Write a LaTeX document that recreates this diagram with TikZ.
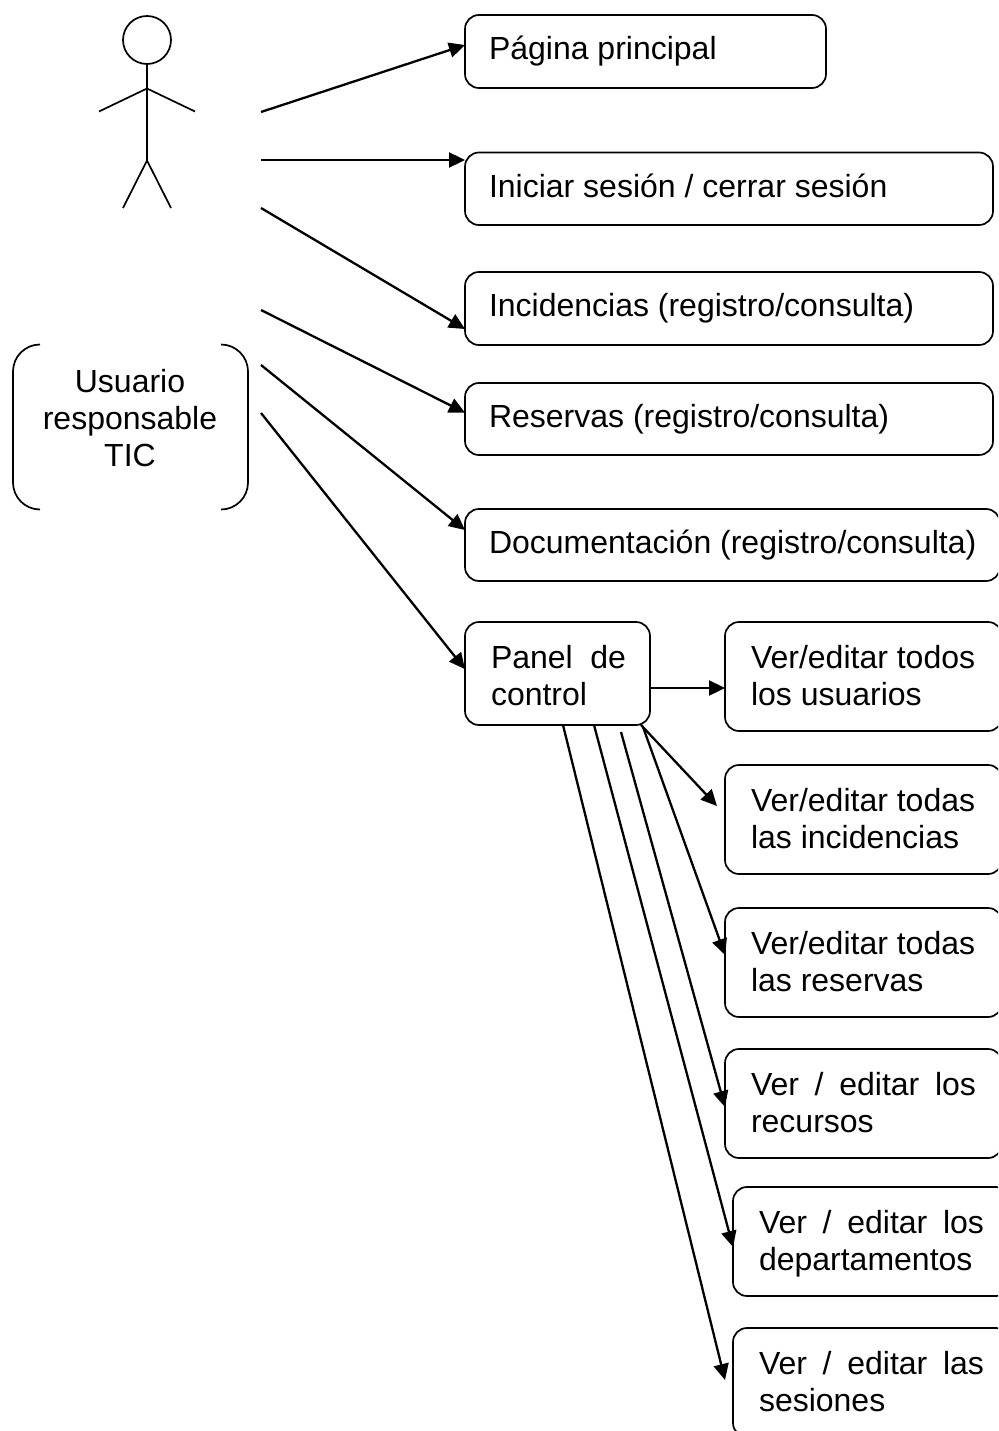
\documentclass[tikz,border=0pt]{standalone}
\usepackage{fontspec}
\setmainfont{Liberation Sans}
\usetikzlibrary{arrows.meta}
\tikzset{
  boxnode/.style n args={3}{draw,rounded corners=14pt,line width=1.7pt,outer sep=0pt,anchor=north west,
    text width=#1pt-48pt,text height=#2pt,text depth=#3pt-#2pt,inner xsep=24pt,inner ysep=0pt,align=flush left,
    font=\fontsize{32}{37}\selectfont},
  vernode/.style={boxnode={273}{46}{109},inner xsep=26pt},
  flecha/.style={line width=2.3pt,-{Triangle[length=16pt,width=15pt]}},
  figura/.style={line width=1.7pt}
}
\begin{document}
\begin{tikzpicture} [x=1pt,y=-1pt]
    \useasboundingbox (0,0) rectangle (998,1431);
    \clip (0,0) rectangle (998,1431);
%actor
    \node[circle,draw,figura,minimum size=48pt,inner sep=0pt,outer sep=0pt] (head) at (147,40) {};
    \coordinate (hombro) at (147,88.5);
    \coordinate (cadera) at (147,160.5);
    \draw [figura] (head.south) -- (cadera);
    \draw [figura] (99,111.5) -- (hombro) -- (195,111.5);
    \draw [figura] (123,208) -- (cadera) -- (171,208);
    \node[font=\fontsize{32}{36.8}\selectfont,align=center,inner sep=0pt] (usuario) at (130,418) {Usuario\\responsable\\TIC};
    \draw [figura,rounded corners=27pt] (40,344.5) -- (13,344.5) -- (13,509.5) -- (40,509.5);
    \draw [figura,rounded corners=27pt] (221,344.5) -- (248,344.5) -- (248,509.5) -- (221,509.5);
%boxes
    \node[boxnode={361}{45}{73}] (pagina) at (465,15) {Página principal};
    \node[boxnode={528}{45}{72.5}] (sesion) at (465,152.5) {Iniciar sesión / cerrar sesión};
    \node[boxnode={528}{44}{73}] (incidencias) at (465,272) {Incidencias (registro/consulta)};
    \node[boxnode={528}{44}{72}] (reservas) at (465,383) {Reservas (registro/consulta)};
    \node[boxnode={535}{44}{72}] (documentacion) at (465,509) {\mbox{Documentación (registro/consulta)}};
    \node[boxnode={185}{46}{103}] (panel) at (465,622) {\hspace*{2pt}Panel\hfill de\\\hspace*{2pt}control};
    \node[vernode] (vusuarios) at (725,622) {\mbox{Ver/editar todos}\\los usuarios};
    \node[vernode] (vincidencias) at (725,765) {\mbox{Ver/editar todas}\\las incidencias};
    \node[vernode] (vreservas) at (725,908) {\mbox{Ver/editar todas}\\las reservas};
    \node[vernode] (vrecursos) at (725,1049) {Ver\hfill/\hfill editar\hfill los\\recursos};
    \node[vernode] (vdepartamentos) at (733,1187) {Ver\hfill/\hfill editar\hfill los\\departamentos};
    \node[vernode] (vsesiones) at (733,1328) {Ver\hfill/\hfill editar\hfill las\\sesiones};
%arrows
    \coordinate (a1) at (261,112);
    \coordinate (a2) at (261,160);
    \coordinate (a3) at (261,208);
    \coordinate (a4) at (261,310);
    \coordinate (a5) at (261,365);
    \coordinate (a6) at (261,413);
    \draw [flecha] (a1) -- ([yshift=6.5pt]pagina.west);
    \draw [flecha] (a2) -- ([yshift=28.75pt]sesion.west);
    \draw [flecha] (a3) -- ([yshift=-20.5pt]incidencias.west);
    \draw [flecha] (a4) -- ([yshift=6.3pt]reservas.west);
    \draw [flecha] (a5) -- ([yshift=15pt]documentacion.west);
    \draw [flecha] (a6) -- ([yshift=4.3pt]panel.west);
    \draw [flecha] ([yshift=-14.5pt]panel.east) -- ([yshift=-11.5pt]vusuarios.west);
    \draw [flecha] ([xshift=83.5pt]panel.south) -- ([xshift=-8pt,yshift=13.5pt]vincidencias.west);
    \draw [flecha] ([xshift=85.5pt,yshift=-2pt]panel.south) -- ([yshift=7.5pt]vreservas.west);
    \draw [flecha] ([xshift=63.5pt,yshift=-7pt]panel.south) -- ([yshift=-3.5pt]vrecursos.west);
    \draw [flecha] ([xshift=36.5pt]panel.south) -- ([yshift=-5.5pt]vdepartamentos.west);
    \draw [flecha] ([xshift=5.5pt]panel.south) -- ([xshift=-8pt,yshift=2.5pt]vsesiones.west);
\end{tikzpicture}
\end{document}
